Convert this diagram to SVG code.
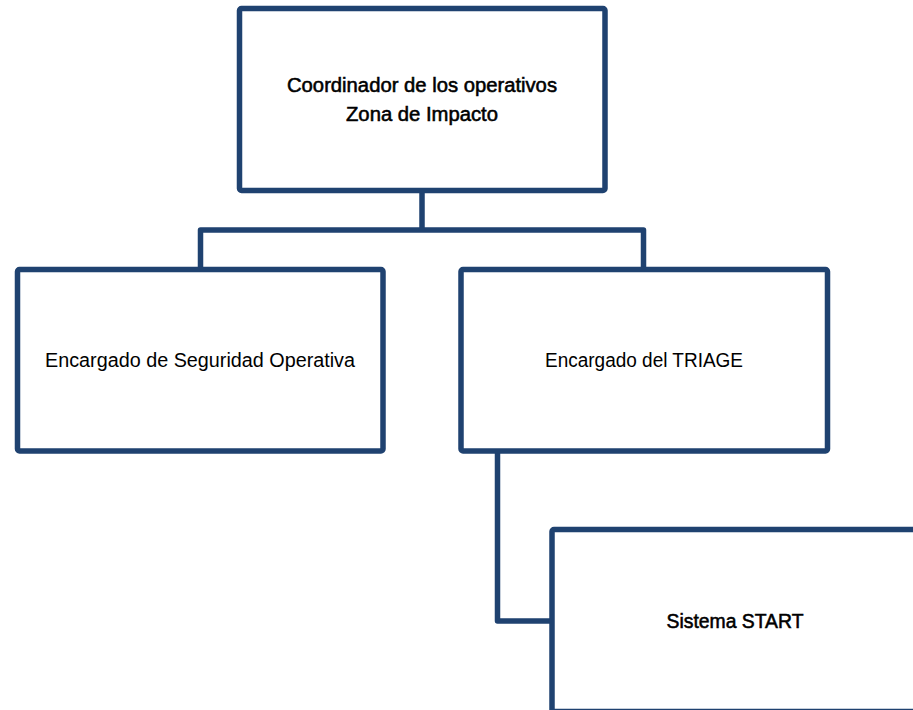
<svg xmlns="http://www.w3.org/2000/svg" width="913" height="710" viewBox="0 0 913 710">
<style>
.box{fill:#ffffff;stroke:#1f4270;stroke-width:5.5}
.con{fill:none;stroke:#1f4270;stroke-width:5.5;stroke-linejoin:round}
.t{font-family:"Liberation Sans",Arial,sans-serif;font-size:20px;fill:#000;text-anchor:middle}
.m{stroke:#000;stroke-width:0.55}
</style>
<rect width="913" height="710" fill="#ffffff"/>
<g id="connectors">
<path class="con" d="M422 190 V230 M200.5 269 V230 H643.5 V269"/>
<path class="con" d="M497.5 451 V621 H552"/>
</g>
<g id="coordinador">
<rect class="box" x="239.5" y="8.5" width="365.5" height="182" rx="2"/>
<text class="t m" x="422" y="91.5" textLength="270" lengthAdjust="spacingAndGlyphs">Coordinador de los operativos</text>
<text class="t m" x="422" y="121" textLength="152" lengthAdjust="spacingAndGlyphs">Zona de Impacto</text>
</g>
<g id="seguridad">
<rect class="box" x="17.5" y="269.5" width="365.5" height="181.5" rx="2"/>
<text class="t" x="200" y="367" textLength="310" lengthAdjust="spacingAndGlyphs">Encargado de Seguridad Operativa</text>
</g>
<g id="triage">
<rect class="box" x="461" y="269.5" width="366.5" height="181.5" rx="2"/>
<text class="t" x="644" y="367" textLength="198" lengthAdjust="spacingAndGlyphs">Encargado del TRIAGE</text>
</g>
<g id="start">
<rect class="box" x="552" y="529.5" width="366" height="182" rx="2"/>
<text class="t m" x="735" y="628" textLength="137" lengthAdjust="spacingAndGlyphs">Sistema START</text>
</g>
</svg>
